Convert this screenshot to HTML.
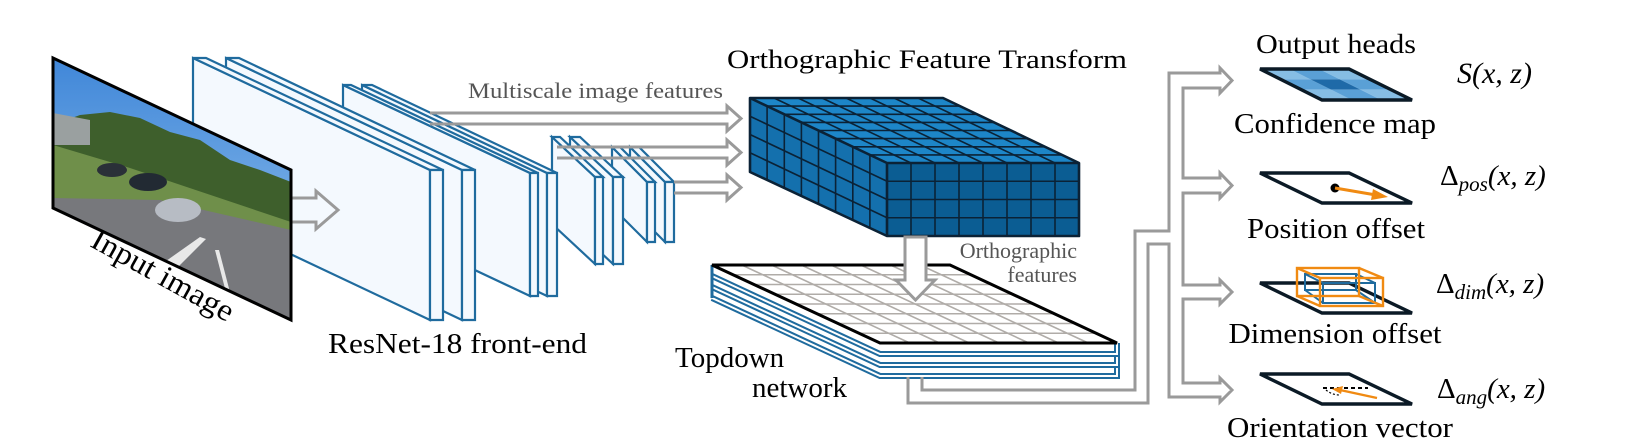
<!DOCTYPE html>
<html><head><meta charset="utf-8"><style>
html,body{margin:0;padding:0;background:#fff;}
svg{display:block;}
text{font-family:"Liberation Serif",serif;}
</style></head><body>
<svg width="1644" height="448" viewBox="0 0 1644 448" xmlns="http://www.w3.org/2000/svg">
<defs>
<clipPath id="imgclip"><polygon points="53,58 291,170 291,320 53,208"/></clipPath>
<linearGradient id="sky" x1="0" y1="0" x2="0" y2="1">
<stop offset="0" stop-color="#3f86d8"/><stop offset="1" stop-color="#9cc8ef"/></linearGradient>
</defs>

<!-- ResNet slabs -->
<g fill="#f4f9fe" stroke="#1f6b9e" stroke-width="2.2" stroke-linejoin="miter">
<polygon points="630,147 665,182 665,242 630,207"/><polygon points="630,147 639,147 674,182 665,182"/><polygon points="665,182 674,182 674,242 665,242"/>
<polygon points="612,147 647,182 647,242 612,207"/><polygon points="612,147 620,147 655,182 647,182"/><polygon points="647,182 655,182 655,242 647,242"/>
<polygon points="570,137 613,177 613,264 570,224"/><polygon points="570,137 580,137 623,177 613,177"/><polygon points="613,177 623,177 623,264 613,264"/>
<polygon points="552,137 595,177 595,264 552,224"/><polygon points="552,137 560,137 603,177 595,177"/><polygon points="595,177 603,177 603,264 595,264"/>
<polygon points="362,85 547,173 547,296 362,208"/><polygon points="362,85 372,85 557,173 547,173"/><polygon points="547,173 557,173 557,296 547,296"/>
<polygon points="343,85 530,173 530,296 343,208"/><polygon points="343,85 351,85 538,173 530,173"/><polygon points="530,173 538,173 538,296 530,296"/>
<polygon points="226,58 462,170 462,320 226,208"/><polygon points="226,58 239,58 475,170 462,170"/><polygon points="462,170 475,170 475,320 462,320"/>
<polygon points="193,58 430,170 430,320 193,208"/><polygon points="193,58 206,58 443,170 430,170"/><polygon points="430,170 443,170 443,320 430,320"/>
</g>

<!-- hollow arrows -->
<g fill="none" stroke="#9a9a9a" stroke-width="3" stroke-linejoin="miter">
<path d="M291,198 H316 V191 L338,210 L316,229 V222 H291"/>
<path d="M430,113 H727 V106 L741,118.5 L727,131 V124 H430"/>
<path d="M557,147 H727 V140 L741,152.5 L727,165 V158 H557"/>
<path d="M674,182 H727 V175 L741,187.5 L727,200 V193 H674"/>
</g>

<!-- input image -->
<g clip-path="url(#imgclip)">
<rect x="50" y="55" width="245" height="270" fill="url(#sky)"/>
<polygon points="53,125 80,115 110,112 140,118 170,132 200,140 230,160 260,170 291,182 291,228 53,165" fill="#3e5f2c"/>
<polygon points="53,145 130,168 291,222 291,236 160,212 53,200" fill="#6f8f4a"/>
<polygon points="53,113 90,120 90,145 53,145" fill="#9aa0a0"/>
<polygon points="53,198 160,200 291,230 291,320 53,208" fill="#77787c"/>
<polygon points="125,290 200,237 206,239 145,300" fill="#e8e8e8"/>
<polygon points="215,250 219,250 232,300 228,300" fill="#e8e8e8"/>
<ellipse cx="178" cy="210" rx="23" ry="12" fill="#b7bcc4"/>
<ellipse cx="148" cy="182" rx="19" ry="9" fill="#222a33"/>
<ellipse cx="112" cy="170" rx="15" ry="7" fill="#2a3038"/>
</g>
<polygon points="53,58 291,170 291,320 53,208" fill="none" stroke="#000" stroke-width="3"/>
<text x="0" y="0" font-size="31" textLength="158" lengthAdjust="spacingAndGlyphs" text-anchor="middle" transform="translate(158,284) rotate(29)">Input image</text>

<text x="468" y="98" font-size="22" fill="#555" textLength="255" lengthAdjust="spacingAndGlyphs">Multiscale image features</text>
<text x="328" y="353" font-size="29" textLength="259" lengthAdjust="spacingAndGlyphs">ResNet-18 front-end</text>
<text x="727" y="68" font-size="26" textLength="400" lengthAdjust="spacingAndGlyphs">Orthographic Feature Transform</text>

<!-- cube -->
<polygon points="750,98 943,98 1079,163 887,163" fill="#1d86c8"/>
<polygon points="750,98 887,163 887,236 750,172" fill="#1470ad"/>
<rect x="887" y="163" width="192" height="73" fill="#0b5d93"/>
<g stroke="#0b2236" stroke-width="1.6" fill="none">
<path d="M774,98 L911,163 M798,98 L935,163 M822,98 L959,163 M846,98 L983,163 M870,98 L1007,163 M894,98 L1031,163 M918,98 L1055,163"/>
<path d="M767.1,106.1 h192 M784.3,114.3 h192 M801.4,122.4 h192 M818.5,130.5 h192 M835.6,138.6 h192 M852.8,146.8 h192 M869.9,154.9 h192"/>
<path d="M767.1,106.1 v73 M784.3,114.3 v73 M801.4,122.4 v73 M818.5,130.5 v73 M835.6,138.6 v73 M852.8,146.8 v73 M869.9,154.9 v73"/>
<path d="M750,116.25 L887,181.25 M750,134.5 L887,199.5 M750,152.75 L887,217.75"/>
<path d="M911,163 V236 M935,163 V236 M959,163 V236 M983,163 V236 M1007,163 V236 M1031,163 V236 M1055,163 V236"/>
<path d="M887,181.25 H1079 M887,199.5 H1079 M887,217.75 H1079"/>
</g>
<g stroke="#0b2236" stroke-width="2.6" fill="none" stroke-linejoin="round">
<polygon points="750,98 943,98 1079,163 1079,236 887,236 750,172"/>
<path d="M750,98 L887,163 H1079 M887,163 V236"/>
</g>

<!-- topdown stack -->
<g fill="none" stroke-linejoin="miter">
<path d="M712,298 L880,376 H1117 V365" stroke="#1f6b9e" stroke-width="6"/>
<path d="M712,298 L880,376 H1117 V365" stroke="#fff" stroke-width="2"/>
<path d="M712,287 L880,365 H1117 V354" stroke="#1f6b9e" stroke-width="6"/>
<path d="M712,287 L880,365 H1117 V354" stroke="#fff" stroke-width="2"/>
<path d="M712,276 L880,354 H1117 V343" stroke="#1f6b9e" stroke-width="6"/>
<path d="M712,276 L880,354 H1117 V343" stroke="#fff" stroke-width="2"/>
<path d="M712,265 V298" stroke="#1f6b9e" stroke-width="3"/>
</g>
<polygon points="712,265 950,265 1117,343 880,343" fill="#fff"/>
<g stroke="#b0aca8" stroke-width="1.6" fill="none">
<path d="M741.75,265 L909.75,343 M771.5,265 L939.5,343 M801.25,265 L969.25,343 M831,265 L999,343 M860.75,265 L1028.75,343 M890.5,265 L1058.5,343 M920.25,265 L1088.25,343"/>
<path d="M733,274.75 H971 M754,284.5 H992 M775,294.25 H1013 M796,304 H1034 M817,313.75 H1055 M838,323.5 H1076 M859,333.25 H1097"/>
</g>
<polygon points="712,265 950,265 1117,343 880,343" fill="none" stroke="#000" stroke-width="3"/>
<polygon points="905,237 926,237 926,280 935,280 915.5,300 896,280 905,280" fill="#fff" stroke="#9a9a9a" stroke-width="3"/>
<text x="1077" y="258" font-size="22" fill="#555" text-anchor="end">Orthographic</text>
<text x="1077" y="282" font-size="22" fill="#555" text-anchor="end">features</text>
<text x="675" y="367" font-size="29">Topdown</text>
<text x="752" y="397" font-size="29">network</text>

<!-- connectors to heads -->
<path d="M922,377 V390 H1135 V231 H1169 V73 H1220 V68 L1232,80.5 L1220,93 V88 H1183 V178 H1220 V173 L1232,185.5 L1220,198 V193 H1183 V285 H1220 V280 L1232,292 L1220,304 V299 H1183 V383 H1220 V378 L1232,390 L1220,402 V397 H1169 V244 H1148 V403 H908 V377" fill="none" stroke="#9a9a9a" stroke-width="3" stroke-linejoin="miter"/>

<!-- heads -->
<text x="1336" y="53" font-size="27" text-anchor="middle" textLength="160" lengthAdjust="spacingAndGlyphs">Output heads</text>
<g stroke="none">
<polygon points="1260,69 1289.67,69 1310.33,79.33 1280.67,79.33" fill="#86bde4"/>
<polygon points="1289.67,69 1319.33,69 1340,79.33 1310.33,79.33" fill="#5aa0d6"/>
<polygon points="1319.33,69 1349,69 1369.67,79.33 1340,79.33" fill="#86bde4"/>
<polygon points="1280.67,79.33 1310.33,79.33 1331,89.67 1301.33,89.67" fill="#5aa0d6"/>
<polygon points="1310.33,79.33 1340,79.33 1360.67,89.67 1331,89.67" fill="#1f6aa8"/>
<polygon points="1340,79.33 1369.67,79.33 1390.33,89.67 1360.67,89.67" fill="#5aa0d6"/>
<polygon points="1301.33,89.67 1331,89.67 1351.67,100 1322,100" fill="#86bde4"/>
<polygon points="1331,89.67 1360.67,89.67 1381.33,100 1351.67,100" fill="#5aa0d6"/>
<polygon points="1360.67,89.67 1390.33,89.67 1411,100 1381.33,100" fill="#86bde4"/>
</g>
<g fill="none" stroke="#0b1a26" stroke-width="3.4">
<polygon points="1260,69 1349,69 1412,100 1322,100"/>
<polygon points="1260,173 1349,173 1412,203 1322,203" fill="#fff"/>
<polygon points="1260,283 1349,283 1412,313 1322,313" fill="#fff"/>
<polygon points="1260,374 1349,374 1412,404 1322,404" fill="#fff"/>
</g>
<circle cx="1335" cy="188" r="4.5" fill="#000"/>
<line x1="1335" y1="188" x2="1376" y2="195" stroke="#f08a12" stroke-width="3"/>
<polygon points="1388,197 1373,189 1371,200" fill="#f08a12"/>
<g fill="none" stroke="#1f6b9e" stroke-width="2">
<rect x="1305" y="274" width="51" height="16"/><rect x="1323" y="283" width="52" height="20"/>
<path d="M1305,274 L1323,283 M1356,274 L1375,283 M1356,290 L1375,303 M1305,290 L1323,303"/>
</g>
<g fill="none" stroke="#f08a12" stroke-width="2.4">
<rect x="1297" y="268" width="62" height="28"/><rect x="1320" y="278" width="63" height="28"/>
<path d="M1297,268 L1320,278 M1359,268 L1383,278 M1359,296 L1383,306 M1297,296 L1320,306"/>
</g>
<line x1="1323" y1="388" x2="1368" y2="388" stroke="#000" stroke-width="2" stroke-dasharray="4,3"/>
<line x1="1377" y1="398" x2="1340" y2="390" stroke="#f08a12" stroke-width="2.4"/>
<polygon points="1332,389 1343,386 1341,394" fill="#f08a12"/>
<path d="M1326,390 Q1332,395 1340,395" fill="none" stroke="#000" stroke-width="1.2" stroke-dasharray="2,2"/>

<text x="1335" y="133" font-size="28" text-anchor="middle" textLength="202" lengthAdjust="spacingAndGlyphs">Confidence map</text>
<text x="1336" y="238" font-size="28" text-anchor="middle" textLength="178" lengthAdjust="spacingAndGlyphs">Position offset</text>
<text x="1335" y="343" font-size="28" text-anchor="middle" textLength="213" lengthAdjust="spacingAndGlyphs">Dimension offset</text>
<text x="1340" y="437" font-size="28" text-anchor="middle" textLength="226" lengthAdjust="spacingAndGlyphs">Orientation vector</text>

<text x="1457" y="83" font-size="30" font-style="italic">S(x, z)</text>
<text x="1440" y="185" font-size="29">Δ<tspan font-style="italic" font-size="21" dy="6">pos</tspan><tspan font-style="italic" dy="-6">(x, z)</tspan></text>
<text x="1436" y="293" font-size="29">Δ<tspan font-style="italic" font-size="21" dy="6">dim</tspan><tspan font-style="italic" dy="-6">(x, z)</tspan></text>
<text x="1437" y="398" font-size="29">Δ<tspan font-style="italic" font-size="21" dy="6">ang</tspan><tspan font-style="italic" dy="-6">(x, z)</tspan></text>
</svg>
</body></html>
